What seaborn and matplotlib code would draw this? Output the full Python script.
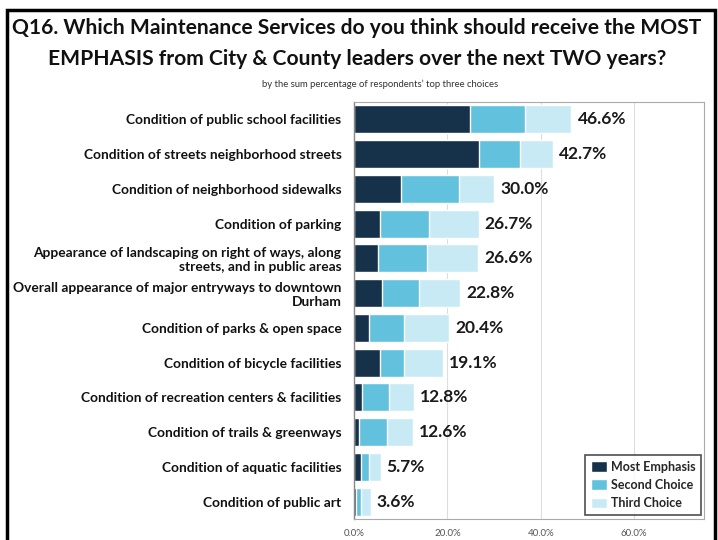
import matplotlib
matplotlib.use("Agg")
import matplotlib.pyplot as plt
import seaborn as sns
import numpy as np
import pandas as pd
from matplotlib.patches import Rectangle

categories = [
    "Condition of public school facilities",
    "Condition of streets neighborhood streets",
    "Condition of neighborhood sidewalks",
    "Condition of parking",
    "Appearance of landscaping on right of ways, along\nstreets, and in public areas",
    "Overall appearance of major entryways to downtown\nDurham",
    "Condition of parks & open space",
    "Condition of bicycle facilities",
    "Condition of recreation centers & facilities",
    "Condition of trails & greenways",
    "Condition of aquatic facilities",
    "Condition of public art",
]
most_emphasis = [24.9, 26.7, 10.0, 5.5, 5.2, 6.0, 3.3, 5.6, 1.8, 1.1, 1.4, 0.4]
second_choice = [11.7, 8.9, 12.6, 10.5, 10.5, 7.9, 7.5, 5.1, 5.8, 6.0, 1.9, 1.2]
totals = [46.6, 42.7, 30.0, 26.7, 26.6, 22.8, 20.4, 19.1, 12.8, 12.6, 5.7, 3.6]
series_names = ["Most Emphasis", "Second Choice", "Third Choice"]
series_colors = ["#16324b", "#62c2de", "#c8eaf5"]
x_ticks = [0, 20, 40, 60]

df = pd.DataFrame({
    "category": categories,
    "most": most_emphasis,
    "second": second_choice,
    "total": totals,
})
df["third"] = df["total"] - df["most"] - df["second"]
df["most_second"] = df["most"] + df["second"]

sns.set_theme(style="white")
plt.rcParams["font.family"] = ["Lato", "DejaVu Sans"]

fig = plt.figure(figsize=(7.18, 5.40), dpi=100)
ax = fig.add_axes([354 / 718, 1 - 519 / 540, (704 - 354) / 718, (519 - 102) / 540])

# stacked bars: draw cumulative totals back to front
sns.barplot(data=df, x="total", y="category", color=series_colors[2], width=0.8,
            ax=ax, saturation=1, label=series_names[2])
sns.barplot(data=df, x="most_second", y="category", color=series_colors[1], width=0.8,
            ax=ax, saturation=1, label=series_names[1])
sns.barplot(data=df, x="most", y="category", color=series_colors[0], width=0.8,
            ax=ax, saturation=1, label=series_names[0])

for i, t in enumerate(df["total"]):
    ax.text(t + 1.3, i, f"{t:.1f}%", va="center", ha="left",
            fontsize=12.5, fontweight="bold", color="#1a1a1a")

ax.set_xlim(0, 75)
ax.set_ylim(len(categories) - 0.5, -0.5)
ax.set_xticks(x_ticks)
ax.set_xticklabels([f"{v:.1f}%" for v in x_ticks], fontsize=7, color="#555555")
ax.tick_params(axis="y", length=0, pad=9, labelsize=9.9)
ax.tick_params(axis="x", length=0, pad=7)
for lab in ax.get_yticklabels():
    lab.set_fontweight("bold")
    lab.set_color("#111111")
    lab.set_horizontalalignment("right")
    lab.set_multialignment("right")
ax.set_xlabel("")
ax.set_ylabel("")
ax.xaxis.grid(True, color="#dddddd", linewidth=0.8)
ax.set_axisbelow(True)
for side in ["top", "right", "bottom"]:
    ax.spines[side].set_color("#aaaaaa")
    ax.spines[side].set_linewidth(0.8)
ax.spines["left"].set_color("#888888")
ax.spines["left"].set_linewidth(1.0)

handles, labels = ax.get_legend_handles_labels()
order = [labels.index(n) for n in series_names]
leg = ax.legend([handles[k] for k in order], [labels[k] for k in order],
                loc="lower right", bbox_to_anchor=(0.992, 0.01), borderaxespad=0,
                frameon=True, fancybox=False, edgecolor="#222222",
                prop={"weight": "bold", "size": 9},
                handlelength=1.3, handleheight=0.9, handletextpad=0.3,
                labelspacing=0.5, borderpad=0.45)
leg.get_frame().set_linewidth(1.2)

fig.text(357 / 718, 1 - 28 / 540, "Q16. Which Maintenance Services do you think should receive the MOST",
         ha="center", va="center", fontsize=15.1, fontweight="bold", color="#111111")
fig.text(357 / 718, 1 - 59 / 540, "EMPHASIS from City & County leaders over the next TWO years?",
         ha="center", va="center", fontsize=15.1, fontweight="bold", color="#111111")
fig.text(380 / 718, 1 - 84 / 540, "by the sum percentage of respondents\u2019 top three choices",
         ha="center", va="center", fontsize=6.8, color="#333333")

fig.patches.append(Rectangle((7 / 718, -0.05), (715 - 7) / 718, 1.05 - 10 / 540,
                             transform=fig.transFigure, fill=False,
                             edgecolor="black", linewidth=2.5))

fig.savefig("out.png", dpi=100)
